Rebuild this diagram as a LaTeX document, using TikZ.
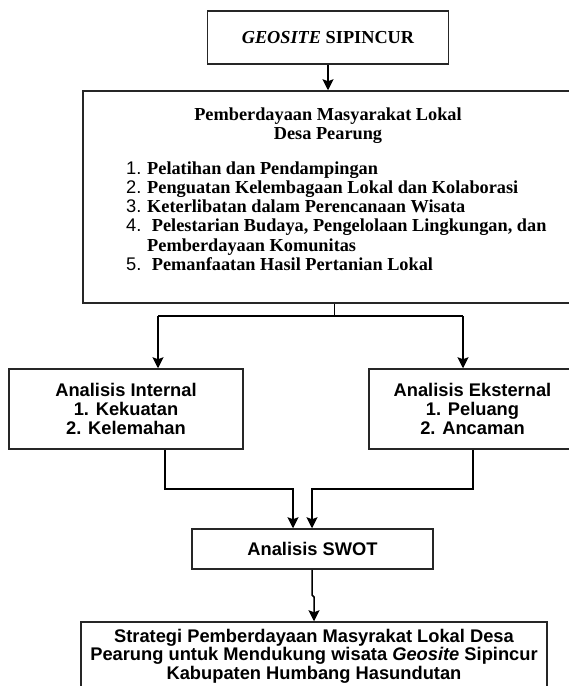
\documentclass[tikz,border=0pt]{standalone}
\usepackage{fontspec}
\setmainfont{Liberation Serif}
\newfontfamily\arial{Liberation Sans}
\usetikzlibrary{arrows.meta}
\tikzset{
  box/.style={draw=black!85, line width=1.5pt, fill=white, inner sep=0pt},
  conn/.style={draw=black, line width=1.5pt},
  arr/.style={conn, -{Stealth[length=11pt,width=11pt,inset=2pt]}},
  serifb/.style={font=\fontsize{18.3}{19.2}\selectfont\bfseries, inner sep=0pt},
  sansb/.style={font=\fontsize{18.3}{19.4}\selectfont\arial\bfseries, align=center},
}
\begin{document}
\begin{tikzpicture}[x=1pt,y=-1pt]
\useasboundingbox (0,0) rectangle (569,686);
\fill[white] (0,0) rectangle (569,686);
\clip (0,0) rectangle (569,686);

% boxes
\node[box, minimum width=241pt, minimum height=53pt, serifb] (top) at (328,37.5) {\textit{GEOSITE} SIPINCUR};
\node[box, minimum width=490pt, minimum height=212pt] (main) at (328,197) {};
\node[serifb, align=center] (title) at (328,125.5) {Pemberdayaan Masyarakat Lokal\\Desa Pearung};
\node[serifb, anchor=base west] (i1) at (126,174) {\makebox[21pt][l]{\mdseries\arial 1.}Pelatihan dan Pendampingan};
\node[serifb, anchor=base west] (i2) at (126,193.3) {\makebox[21pt][l]{\mdseries\arial 2.}Penguatan Kelembagaan Lokal dan Kolaborasi};
\node[serifb, anchor=base west] (i3) at (126,212.6) {\makebox[21pt][l]{\mdseries\arial 3.}Keterlibatan dalam Perencanaan Wisata};
\node[serifb, anchor=base west] (i4) at (126,231.9) {\makebox[21pt][l]{\mdseries\arial 4.}\hspace{4.7pt}Pelestarian Budaya, Pengelolaan Lingkungan, dan};
\node[serifb, anchor=base west] (i4b) at (126,251.2) {\hspace{21pt}Pemberdayaan Komunitas};
\node[serifb, anchor=base west] (i5) at (126,270.5) {\makebox[21pt][l]{\mdseries\arial 5.}\hspace{4.7pt}Pemanfaatan Hasil Pertanian Lokal};

\node[box, minimum width=234pt, minimum height=80pt, sansb] (left) at (126,409) {Analisis Internal\\1. Kekuatan\\2. Kelemahan};
\node[box, minimum width=207pt, minimum height=80pt, sansb] (right) at (472.5,409) {Analisis Eksternal\\1. Peluang\\2. Ancaman};
\node[box, minimum width=241pt, minimum height=40pt, sansb] (swot) at (312.5,549) {Analisis SWOT};
\node[box, minimum width=466pt, minimum height=68pt, sansb, font=\fontsize{18.3}{18.6}\selectfont\arial\bfseries] (final) at (314,656) {Strategi Pemberdayaan Masyrakat Lokal Desa\\Pearung untuk Mendukung wisata \textit{Geosite} Sipincur\\Kabupaten Humbang Hasundutan};

% connector coordinates
\coordinate (split) at (334.5,316);
\coordinate (jl) at (158,316);
\coordinate (jr) at (463,316);
\coordinate (bl) at (165,489);
\coordinate (cl) at (293,489);
\coordinate (br) at (473,489);
\coordinate (cr) at (312,489);
\coordinate (d1) at (312,595);
\coordinate (d2) at (314,597);

% connectors
\draw[arr] (top.south) -- (main.north);
\draw[conn] (split |- main.south) -- (split);
\draw[conn] (jl) -- (jr);
\draw[arr] (jl) -- (jl |- left.north);
\draw[arr] (jr) -- (jr |- right.north);
\draw[arr] (bl |- left.south) -- (bl) -- (cl) -- (cl |- swot.north);
\draw[arr] (br |- right.south) -- (br) -- (cr) -- (cr |- swot.north);
\draw[arr] (d1 |- swot.south) -- (d1) -- (d2) -- (d2 |- final.north);
\end{tikzpicture}
\end{document}
